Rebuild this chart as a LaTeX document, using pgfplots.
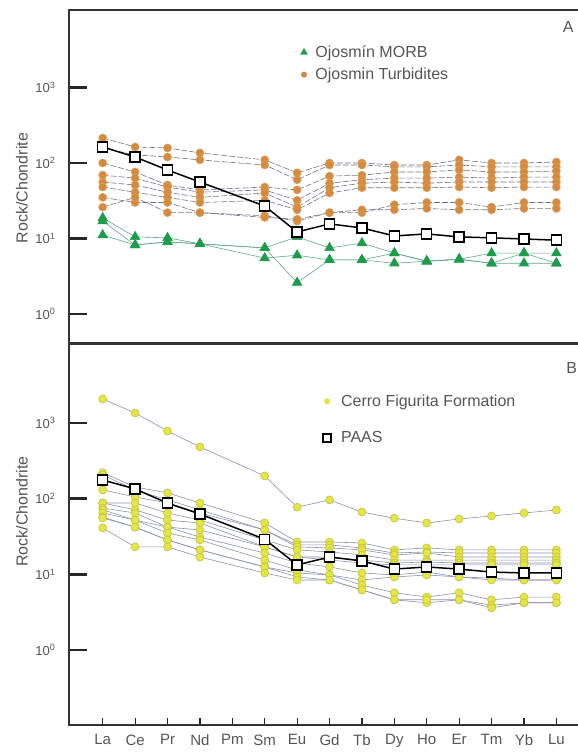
\documentclass[border=0pt]{standalone}
\usepackage{pgfplots}
\pgfplotsset{compat=1.18}
\usepackage{pgfplotstable}
\usepackage{fontspec}
\setmainfont{Liberation Sans}

\definecolor{morbcol}{HTML}{1E9B4B}
\definecolor{morbline}{HTML}{5FA888}
\definecolor{turbcol}{HTML}{D68A3E}
\definecolor{turbline}{HTML}{6F7384}
\definecolor{cffcol}{HTML}{E4E645}
\definecolor{cffline}{HTML}{8C91B4}
\definecolor{txt}{HTML}{555555}

% x: La Ce Pr Nd (Pm) Sm Eu Gd Tb Dy Ho Er Tm Yb Lu
\pgfplotstableread{
x   T1  T2  T3  T4  T5  T6  T7  T8
0   214 158 100 69  56  48  35  26
1   163 128 76  63  51  41  30  35
2   158 120 51  48  41  35  30  22
3   136 110 44  41  35  30  22  22
5   110 94  48  44  40  32  20  19
6   74  60  44  32  26  24  17  18
7   100 94  67  54  47  40  22  22
8   100 94  69  60  54  47  22  24
9   94  89  76  63  56  47  28  24
10  94  89  76  63  54  47  30  25
11  110 94  81  65  56  48  30  24
12  100 89  76  63  56  47  26  24
13  100 89  76  65  56  48  30  25
14  103 89  78  65  56  48  30  25
}\turbidites

\pgfplotstableread{
x   M1   M2   M3
0   18.7 11.1 17.0
1   10.5 8.2  8.2
2   10.2 9.0  9.0
3   8.5  8.5  8.5
5   7.5  5.5  7.5
6   10.5 6.0  2.6
7   7.5  5.2  5.2
8   8.7  5.2  5.2
9   6.4  4.7  6.4
10  5.0  5.0  5.0
11  5.3  5.3  5.3
12  6.4  4.7  4.7
13  6.4  4.7  6.4
14  6.4  4.7  4.7
}\morbtab

\pgfplotstableread{
x   A    B
0   163  176
1   120  134
2   80.7 87
3   56   62.6
5   26.9 29
6   12.2 13.3
7   15.6 16.9
8   13.8 15
9   10.8 11.7
10  11.5 12.5
11  10.5 11.7
12  10.2 10.7
13  9.85 10.4
14  9.5  10.4
}\paas

\pgfplotstableread{
x   C0   C1   C2   C3   C4   C5   C6   C7   C8   C9   C10  C11
0   2070 220  205  130  87.5 87.5 75   71   64.5 57   55.5 41
1   1352 142  130  105  87.5 71   64.5 52   52   42   42   23
2   782  119  96   87.5 64.5 52   42   42   35   28.4 28.4 23
3   481  87.5 71   64.5 52   47.6 38.5 31   28.4 21   21   16.9
5   199  47.6 38.5 38.5 28.4 23   23   19.1 15.4 12.5 12.5 10.4
6   77   26.7 24.4 23   21   16.9 16.9 14.1 11.4 10.4 9.2  8.4
7   96   26.7 24.4 22.3 19.7 16.9 15.4 12.5 9.8  9.8  8.4  8.4
8   66.5 25.9 22.3 21   18   15.4 14.1 10.4 8.4  7.2  6.2  6.2
9   55   21   19.1 18   15.4 14.1 13.3 9.8  9.2  5.7  4.6  4.6
10  47.6 22.3 19.7 19.1 15.4 14.5 13.3 10.7 9.8  5.0  4.2  4.6
11  53.8 21   19.1 16.9 15.4 14.1 13.3 9.2  9.2  5.7  4.6  4.6
12  58.9 21   19.1 16.9 15.4 14.1 13.3 8.9  8.4  4.6  3.9  3.6
13  64.5 21   19.1 16.9 15.4 14.1 13.3 8.4  8.4  5.0  4.2  4.2
14  70.7 21   19.1 16.9 15.4 14.1 13.3 8.4  8.4  5.0  4.2  4.2
}\cerro

\tikzset{
  turbplot/.style={color=turbline, line width=0.6pt, dash pattern=on 6pt off 2pt,
    mark=*, mark size=4pt, mark options={solid, fill=turbcol, draw=turbcol!85!white}},
  morbplot/.style={color=morbline, line width=0.6pt,
    mark=triangle*, mark size=5.5pt, mark options={solid, fill=morbcol, draw=morbcol}},
  paasplot/.style={black, line width=1.5pt,
    mark=square*, mark size=5pt, mark options={fill=white, draw=black, line width=1.4pt}},
  cffplot/.style={color=cffline, line width=0.6pt,
    mark=*, mark size=4pt, mark options={fill=cffcol, draw=cffcol!85!black}},
}

\begin{document}
\begin{tikzpicture}
\useasboundingbox (0pt,0pt) rectangle (578pt,753pt);

% Panel A
\begin{axis}[at={(69pt,410pt)}, anchor=south west,
  scale only axis, width=512pt, height=333pt,
  xmin=-1.04, xmax=14.76,
  ymode=log, ymin=0.413, ymax=10620,
  yminorticks=false,
  ytick={1,10,100,1000},
  yticklabels={10\textsuperscript{0},10\textsuperscript{1},10\textsuperscript{2},10\textsuperscript{3}},
  xtick=\empty,
  tick align=inside, ytick pos=left,
  major tick length=18pt,
  ytick style={line width=2.6pt, black!85},
  axis line style={line width=1.8pt, black!80},
  yticklabel style={font=\fontsize{13}{14}\selectfont, text=txt, xshift=-10pt},
  ylabel={Rock/Chondrite},
  ylabel style={at={(axis description cs:-0.092,0.465)}, anchor=center,
    font=\fontsize{16}{18}\selectfont, text=txt},
  legend cell align=left,
  legend style={draw=none, fill=none, font=\fontsize{16}{18}\selectfont, text=txt,
    at={(0.446,0.905)}, anchor=north west, row sep=5pt, column sep=6pt}]
\addlegendimage{only marks, mark=triangle*, mark size=4pt, fill=morbcol, draw=morbcol}
\addlegendentry{Ojosmín MORB}
\addlegendimage{only marks, mark=*, mark size=2.8pt, fill=turbcol, draw=turbcol}
\addlegendentry{Ojosmin Turbidites}
\addplot[turbplot, forget plot] table[x=x, y=T1] {\turbidites};
\addplot[turbplot, forget plot] table[x=x, y=T2] {\turbidites};
\addplot[turbplot, forget plot] table[x=x, y=T3] {\turbidites};
\addplot[turbplot, forget plot] table[x=x, y=T4] {\turbidites};
\addplot[turbplot, forget plot] table[x=x, y=T5] {\turbidites};
\addplot[turbplot, forget plot] table[x=x, y=T6] {\turbidites};
\addplot[turbplot, forget plot] table[x=x, y=T7] {\turbidites};
\addplot[turbplot, forget plot] table[x=x, y=T8] {\turbidites};
\addplot[morbplot, forget plot] table[x=x, y=M1] {\morbtab};
\addplot[morbplot, forget plot] table[x=x, y=M2] {\morbtab};
\addplot[morbplot, forget plot] table[x=x, y=M3] {\morbtab};
\addplot[paasplot, forget plot] table[x=x, y=A] {\paas};
\node[font=\fontsize{16}{18}\selectfont, text=txt] at (rel axis cs:0.975,0.949) {A};
\end{axis}

% Panel B
\begin{axis}[at={(69pt,28pt)}, anchor=south west,
  scale only axis, width=512pt, height=381pt,
  xmin=-1.04, xmax=14.76,
  ymode=log, ymin=0.102, ymax=11020,
  yminorticks=false,
  ytick={1,10,100,1000},
  yticklabels={10\textsuperscript{0},10\textsuperscript{1},10\textsuperscript{2},10\textsuperscript{3}},
  xtick=\empty,
  tick align=inside, ytick pos=left,
  major tick length=18pt,
  ytick style={line width=2.6pt, black!85},
  axis line style={line width=1.8pt, black!80},
  yticklabel style={font=\fontsize{13}{14}\selectfont, text=txt, xshift=-10pt},
  ylabel={Rock/Chondrite},
  ylabel style={at={(axis description cs:-0.092,0.56)}, anchor=center,
    font=\fontsize{16}{18}\selectfont, text=txt},
  legend cell align=left,
  legend style={draw=none, fill=none, font=\fontsize{16}{18}\selectfont, text=txt,
    at={(0.49,0.878)}, anchor=north west, row sep=20pt, column sep=8pt}]
\addlegendimage{only marks, mark=*, mark size=2.8pt, fill=cffcol, draw=cffcol}
\addlegendentry{Cerro Figurita Formation}
\addlegendimage{only marks, mark=square*, mark size=4pt, fill=white, draw=black, line width=1.3pt}
\addlegendentry{PAAS}
\addplot[cffplot, forget plot] table[x=x, y=C0] {\cerro};
\addplot[cffplot, forget plot] table[x=x, y=C1] {\cerro};
\addplot[cffplot, forget plot] table[x=x, y=C2] {\cerro};
\addplot[cffplot, forget plot] table[x=x, y=C3] {\cerro};
\addplot[cffplot, forget plot] table[x=x, y=C4] {\cerro};
\addplot[cffplot, forget plot] table[x=x, y=C5] {\cerro};
\addplot[cffplot, forget plot] table[x=x, y=C6] {\cerro};
\addplot[cffplot, forget plot] table[x=x, y=C7] {\cerro};
\addplot[cffplot, forget plot] table[x=x, y=C8] {\cerro};
\addplot[cffplot, forget plot] table[x=x, y=C9] {\cerro};
\addplot[cffplot, forget plot] table[x=x, y=C10] {\cerro};
\addplot[cffplot, forget plot] table[x=x, y=C11] {\cerro};
\addplot[paasplot, forget plot] table[x=x, y=B] {\paas};
\node[font=\fontsize{16}{18}\selectfont, text=txt] at (rel axis cs:0.982,0.937) {B};
\end{axis}

% element ticks and names along the bottom of panel B
\begin{axis}[at={(69pt,28pt)}, anchor=south west,
  scale only axis, width=512pt, height=381pt,
  xmin=-1.04, xmax=14.76, ymin=0, ymax=1,
  ytick=\empty,
  axis line style={line width=1.8pt, black!80},
  xtick={0,1,2,3,4,5,6,7,8,9,10,11,12,13,14},
  xticklabels={La,Ce,Pr,Nd,Pm,Sm,Eu,Gd,Tb,Dy,Ho,Er,Tm,Yb,Lu},
  tick align=inside, xtick pos=bottom,
  major tick length=7pt,
  xtick style={line width=1.2pt, black!85},
  xticklabel style={font=\fontsize{15}{17}\selectfont, text=txt, yshift=-6pt}]
\end{axis}
\end{tikzpicture}
\end{document}
